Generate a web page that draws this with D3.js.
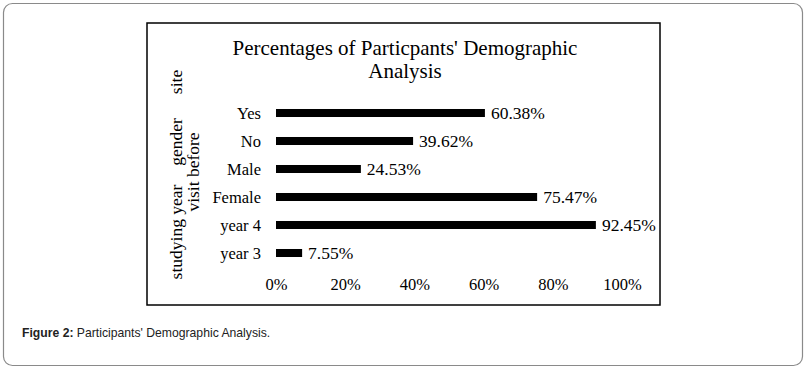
<!DOCTYPE html>
<meta charset="utf-8">
<style>
body { margin: 0; background: #fff; }
.serif { font-family: "Liberation Serif", "Times New Roman", serif; fill: #000; }
.caption { font: 12.2px "Liberation Sans", Arial, sans-serif; fill: #222; }
</style>
<svg width="809" height="369"></svg>
<script src="https://d3js.org/d3.v7.min.js"></script>
<script>

var categories = ["Yes", "No", "Male", "Female", "year 4", "year 3"];
var values = [60.38, 39.62, 24.53, 75.47, 92.45, 7.55];
var tickValues = [0, 20, 40, 60, 80, 100];
var groups = [
  { name: "site", col: 0, y: 82 },
  { name: "gender", col: 0, y: 142 },
  { name: "visit before", col: 1, y: 172 },
  { name: "studying year", col: 0, y: 232 }
];

var svg = d3.select("svg");

// outer figure frame
svg.append("rect")
    .attr("x", 3.5).attr("y", 3.5)
    .attr("width", 799).attr("height", 362)
    .attr("rx", 9)
    .attr("fill", "none")
    .attr("stroke", "#8a8a8a")
    .attr("stroke-width", 1.2);

// chart box
svg.append("rect")
    .attr("x", 147).attr("y", 23)
    .attr("width", 513).attr("height", 282)
    .attr("fill", "#fff")
    .attr("stroke", "#000")
    .attr("stroke-width", 1.5);

var x = d3.scaleLinear().domain([0, 100]).range([276, 622]);
var y = d3.scaleBand().domain(categories).range([99, 267]).paddingInner(0.714).paddingOuter(0.357);

var g = svg.append("g");

g.selectAll("rect.bar")
  .data(values)
  .enter().append("rect")
    .attr("class", "bar")
    .attr("x", x(0))
    .attr("y", function(d, i) { return y(categories[i]); })
    .attr("width", function(d) { return x(d) - x(0); })
    .attr("height", y.bandwidth())
    .attr("fill", "#000");

g.selectAll("text.val")
  .data(values)
  .enter().append("text")
    .attr("class", "serif")
    .attr("x", function(d) { return x(d) + 6; })
    .attr("y", function(d, i) { return y(categories[i]) + y.bandwidth() / 2 + 6; })
    .style("font-size", "17.5px")
    .text(function(d) { return d.toFixed(2) + "%"; });

g.selectAll("text.cat")
  .data(categories)
  .enter().append("text")
    .attr("class", "serif")
    .attr("x", 261)
    .attr("y", function(d) { return y(d) + y.bandwidth() / 2 + 6; })
    .attr("text-anchor", "end")
    .style("font-size", "16.5px")
    .text(function(d) { return d; });

// x axis labels only (no line)
var xAxis = g.append("g")
    .attr("transform", "translate(0,290)")
    .call(d3.axisBottom(x).tickValues(tickValues).tickSize(0).tickPadding(0)
      .tickFormat(function(d) { return d + "%"; }));
xAxis.select(".domain").remove();
xAxis.selectAll("text")
    .attr("class", "serif")
    .attr("dy", 0)
    .style("font-size", "16.5px");

// rotated group labels
g.selectAll("text.grp")
  .data(groups)
  .enter().append("text")
    .attr("class", "serif")
    .attr("text-anchor", "middle")
    .attr("transform", function(d) {
      return "translate(" + (d.col ? 199 : 182) + "," + d.y + ") rotate(-90)";
    })
    .style("font-size", "17.5px")
    .text(function(d) { return d.name; });

// title
var title = g.append("text")
    .attr("class", "serif")
    .attr("text-anchor", "middle")
    .style("font-size", "21px");
title.append("tspan").attr("x", 405).attr("y", 55).text("Percentages of Particpants' Demographic");
title.append("tspan").attr("x", 405).attr("y", 78).text("Analysis");

// caption
var cap = svg.append("text")
    .attr("class", "caption")
    .attr("x", 22).attr("y", 337);
cap.append("tspan").style("font-weight", "bold").text("Figure 2:");
cap.append("tspan").text(" Participants' Demographic Analysis.");

</script>
